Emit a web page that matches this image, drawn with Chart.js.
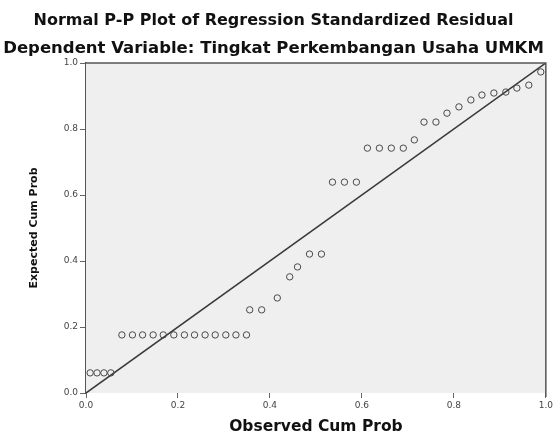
<!DOCTYPE html>
<html>
<head>
<meta charset="utf-8">
<script src="https://cdn.jsdelivr.net/npm/chart.js@4/dist/chart.umd.min.js"></script>
<style>
  html, body { margin: 0; padding: 0; background: #ffffff; }
  #wrap { width: 555px; height: 436px; }
</style>
</head>
<body>
<div id="wrap"><canvas id="c" width="555" height="436"></canvas></div>
<script>
// ---- data ----
const titleText = 'Normal P-P Plot of Regression Standardized Residual';
const subtitleText = 'Dependent Variable: Tingkat Perkembangan Usaha UMKM';
const xAxisTitle = 'Observed Cum Prob';
const yAxisTitle = 'Expected Cum Prob';
const tickLabels = ['0.0', '0.2', '0.4', '0.6', '0.8', '1.0'];
const tickValues = [0, 0.2, 0.4, 0.6, 0.8, 1.0];

const observedCumProb = [
  0.009, 0.024, 0.039, 0.054,
  0.078, 0.101, 0.123, 0.146, 0.168, 0.191, 0.214, 0.236, 0.259, 0.281, 0.304, 0.326, 0.349,
  0.356, 0.382,
  0.416,
  0.443,
  0.460,
  0.486, 0.512,
  0.536, 0.562, 0.588,
  0.612, 0.638, 0.664, 0.690,
  0.714,
  0.735, 0.761,
  0.785, 0.811, 0.837, 0.861, 0.887, 0.913, 0.937, 0.963, 0.989
];
const expectedCumProb = [
  0.061, 0.061, 0.061, 0.061,
  0.176, 0.176, 0.176, 0.176, 0.176, 0.176, 0.176, 0.176, 0.176, 0.176, 0.176, 0.176, 0.176,
  0.252, 0.252,
  0.288,
  0.352,
  0.382,
  0.421, 0.421,
  0.639, 0.639, 0.639,
  0.742, 0.742, 0.742, 0.742,
  0.767,
  0.821, 0.821,
  0.848, 0.867, 0.888, 0.903, 0.909, 0.912, 0.924, 0.933, 0.973
];
const refLineX = [0, 1];
const refLineY = [0, 1];

// ---- build datasets ----
const points = observedCumProb.map((x, i) => ({ x: x, y: expectedCumProb[i] }));
const refLine = refLineX.map((x, i) => ({ x: x, y: refLineY[i] }));

const plotFrame = {
  id: 'plotFrame',
  beforeDatasetsDraw(chart) {
    const { ctx, chartArea: a } = chart;
    ctx.save();
    ctx.fillStyle = '#efefef';
    ctx.fillRect(a.left, a.top, a.right - a.left, a.bottom - a.top);
    ctx.restore();
  },
  afterDraw(chart) {
    const { ctx, chartArea: a } = chart;
    ctx.save();
    ctx.strokeStyle = '#555555';
    ctx.lineWidth = 1.5;
    ctx.beginPath();
    ctx.moveTo(a.left, a.top);
    ctx.lineTo(a.right, a.top);
    ctx.lineTo(a.right, a.bottom + 4);
    ctx.stroke();
    ctx.restore();
  }
};

const tickFont = { family: 'DejaVu Sans', size: 9 };

new Chart(document.getElementById('c'), {
  type: 'scatter',
  data: {
    datasets: [
      {
        label: 'Observed',
        data: points,
        pointStyle: 'circle',
        pointRadius: 3.2,
        pointBorderWidth: 1,
        pointBorderColor: '#4a4a4a',
        pointBackgroundColor: 'rgba(0,0,0,0)',
        showLine: false
      },
      {
        label: 'Reference',
        data: refLine,
        showLine: true,
        borderColor: '#3a3a3a',
        borderWidth: 1.6,
        pointRadius: 0
      }
    ]
  },
  options: {
    responsive: false,
    animation: false,
    devicePixelRatio: 1,
    layout: { padding: { left: 0, right: 8, top: 0, bottom: 0 } },
    plugins: {
      legend: { display: false },
      tooltip: { enabled: false },
      title: {
        display: true,
        text: titleText,
        color: '#111111',
        font: { family: 'DejaVu Sans', size: 16, weight: 'bold' },
        padding: { top: 11, bottom: 8 }
      },
      subtitle: {
        display: true,
        text: subtitleText,
        color: '#111111',
        font: { family: 'DejaVu Sans', size: 16.5, weight: 'bold' },
        padding: { top: 1, bottom: 4 }
      }
    },
    scales: {
      x: {
        type: 'linear',
        min: 0,
        max: 1,
        afterFit(scale) { scale.height = 43; },
        afterBuildTicks(scale) { scale.ticks = tickValues.map(v => ({ value: v })); },
        ticks: {
          font: tickFont,
          color: '#444444',
          padding: 2,
          maxRotation: 0,
          callback: (v) => tickLabels[tickValues.findIndex(t => Math.abs(t - v) < 1e-9)]
        },
        grid: { drawOnChartArea: false, drawTicks: true, tickLength: 5, tickColor: '#666666' },
        border: { display: false },
        title: {
          display: true,
          text: xAxisTitle,
          color: '#111111',
          font: { family: 'DejaVu Sans', size: 15.5, weight: 'bold' },
          padding: { top: 0, bottom: 0 }
        }
      },
      y: {
        type: 'linear',
        min: 0,
        max: 1,
        afterFit(scale) { scale.width = 86; },
        afterBuildTicks(scale) { scale.ticks = tickValues.map(v => ({ value: v })); },
        ticks: {
          font: tickFont,
          color: '#444444',
          padding: 2,
          callback: (v) => tickLabels[tickValues.findIndex(t => Math.abs(t - v) < 1e-9)]
        },
        grid: { drawOnChartArea: false, drawTicks: true, tickLength: 6, tickColor: '#666666' },
        border: { display: true, color: '#555555', width: 1.5 },
        title: {
          display: true,
          text: yAxisTitle,
          color: '#111111',
          font: { family: 'DejaVu Sans', size: 11, weight: 'bold' },
          padding: { top: 28, bottom: 0 }
        }
      }
    }
  },
  plugins: [plotFrame]
});
</script>
</body>
</html>
